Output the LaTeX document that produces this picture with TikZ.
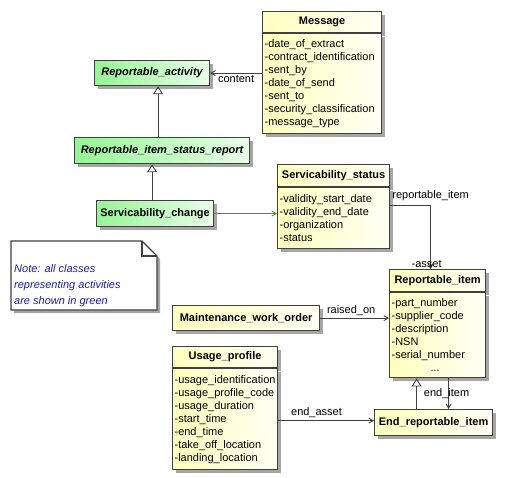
\documentclass[tikz,border=0pt]{standalone}
\usepackage{fontspec}
\setmainfont{Liberation Sans}
\usetikzlibrary{arrows,arrows.meta,positioning,shadows}
\definecolor{ActGreen}{RGB}{150,245,150}
\definecolor{ActLight}{RGB}{232,255,232}
\definecolor{ClsYellow}{RGB}{255,255,190}
\definecolor{ClsLight}{RGB}{255,255,245}
\definecolor{LineGray}{RGB}{64,64,64}
\definecolor{FlowGreen}{RGB}{70,150,30}
\definecolor{NoteBlue}{RGB}{30,30,170}
\tikzset{
  classnode/.style = {draw = LineGray, line width = 1.2pt, inner sep = 0pt,
    font = \fontsize{11}{13}\selectfont,
    drop shadow = {shadow xshift = 3pt, shadow yshift = -3pt, fill = black!35, opacity = 1}},
  ClassHead/.style = {classnode, anchor = north west, left color = ClsYellow, right color = ClsLight,
    font = \fontsize{11}{13}\selectfont\bfseries},
  ClassBody/.style = {classnode, left color = ClsYellow, right color = ClsLight, align = left, inner xsep = 2pt},
  ActivityNode/.style = {classnode, anchor = north west, left color = ActGreen, right color = ActLight,
    font = \fontsize{11}{13}\selectfont\bfseries},
  AbstractNode/.style = {ActivityNode, font = \fontsize{11}{13}\selectfont\bfseries\itshape},
  Assoc/.style = {draw = LineGray, line width = 0.9pt, -angle 60},
  Gen/.style = {draw = LineGray, line width = 0.9pt, -{Triangle[open, length = 8pt, width = 10pt]}},
  RoleLabel/.style = {font = \fontsize{11}{13}\selectfont, inner sep = 2pt}
}
\begin{document}
\begin{tikzpicture}[x=1pt, y=-1pt]
    \useasboundingbox (0,0) rectangle (505,478);
    % activities
    \node [AbstractNode, minimum width = 115pt, minimum height = 25pt] (ra) at (94,60) {Reportable\_activity};
    \node [AbstractNode, minimum width = 175pt, minimum height = 26pt] (risr) at (74,137) {Reportable\_item\_status\_report};
    \node [ActivityNode, minimum width = 117pt, minimum height = 26pt] (sc) at (96,200) {Servicability\_change};
    % classes
    \node [ClassHead, minimum width = 119pt, minimum height = 21pt] (msg) at (262,11) {Message};
    \node [ClassBody, text width = 115pt, minimum height = 100pt, below = 0pt of msg] (msgattr)
        {-date\_of\_extract\\-contract\_identification\\-sent\_by\\-date\_of\_send\\-sent\_to\\-security\_classification\\-message\_type};
    \node [ClassHead, minimum width = 112pt, minimum height = 22pt] (ss) at (277,164) {Servicability\_status};
    \node [ClassBody, text width = 108pt, minimum height = 61pt, below = 0pt of ss] (ssattr)
        {-validity\_start\_date\\-validity\_end\_date\\-organization\\-status};
    \node [ClassHead, minimum width = 96pt, minimum height = 22pt] (ri) at (389,269) {Reportable\_item};
    \node [ClassBody, text width = 92pt, minimum height = 85pt, below = 0pt of ri] (riattr)
        {-part\_number\\-supplier\_code\\-description\\-NSN\\-serial\_number\\\hspace*{39pt}...};
    \node [ClassHead, minimum width = 147pt, minimum height = 25pt] (mwo) at (172,305) {Maintenance\_work\_order};
    \node [ClassHead, minimum width = 105pt, minimum height = 21pt] (up) at (172,346) {Usage\_profile};
    \node [ClassBody, text width = 101pt, minimum height = 101pt, below = 0pt of up] (upattr)
        {-usage\_identification\\-usage\_profile\_code\\-usage\_duration\\-start\_time\\-end\_time\\-take\_off\_location\\-landing\_location};
    \node [ClassHead, minimum width = 118pt, minimum height = 26pt] (eri) at (374,409) {End\_reportable\_item};
    % note
    \fill [black!35] (14,244) -- (145,244) -- (160,259) -- (160,313) -- (14,313) -- cycle;
    \filldraw [fill = white, draw = LineGray, line width = 1.2pt] (11,241) -- (142,241) -- (157,256) -- (157,310) -- (11,310) -- cycle;
    \draw [LineGray, line width = 1.2pt] (142,241) -- (142,256) -- (157,256);
    \node [anchor = north west, inner sep = 0pt, align = left, NoteBlue,
        font = \fontsize{11}{16}\selectfont\itshape] (note) at (14,264)
        {Note: all classes\\representing activities\\are shown in green};
    % connectors
    \coordinate (g1) at ([xshift = -4pt]risr.north);
    \coordinate (g2) at ([xshift = -3pt]sc.north);
    \coordinate (g3) at ([xshift = -17pt]eri.north);
    \coordinate (e1) at ([xshift = 15pt]eri.north);
    \coordinate (a1) at ([yshift = 13pt]ssattr.east);
    \coordinate (a2) at ([xshift = -7pt]ri.north);
    \coordinate (a3) at ([yshift = 2pt]eri.west);
    \draw [Assoc] (ra.east -| msgattr.west) -- node [RoleLabel, below] (lcontent) {content} (ra.east);
    \draw [Gen] (g1) -- (g1 |- ra.south);
    \draw [Gen] (g2) -- (g2 |- risr.south);
    \draw [Assoc, draw = FlowGreen] (sc.east) -- (sc.east -| ssattr.west);
    \draw [Assoc] (a1) -| node [RoleLabel, above, pos = 0.5, yshift = 2pt] (lri) {reportable\_item}
        node [RoleLabel, above, pos = 1, xshift = -4pt, inner sep = 1pt] (lasset) {-asset} (a2);
    \draw [Assoc] (mwo.east) -- node [RoleLabel, above, pos = 0.45] (lraised) {raised\_on} (mwo.east -| riattr.west);
    \draw [Assoc] (upattr.east |- a3) -- node [RoleLabel, above, pos = 0.4] (lend) {end\_asset} (a3);
    \draw [Gen] (g3) -- (g3 |- riattr.south);
    \draw [Assoc] (e1 |- riattr.south) -- node [RoleLabel, xshift = -2pt] (litem) {end\_item} (e1);
\end{tikzpicture}
\end{document}
